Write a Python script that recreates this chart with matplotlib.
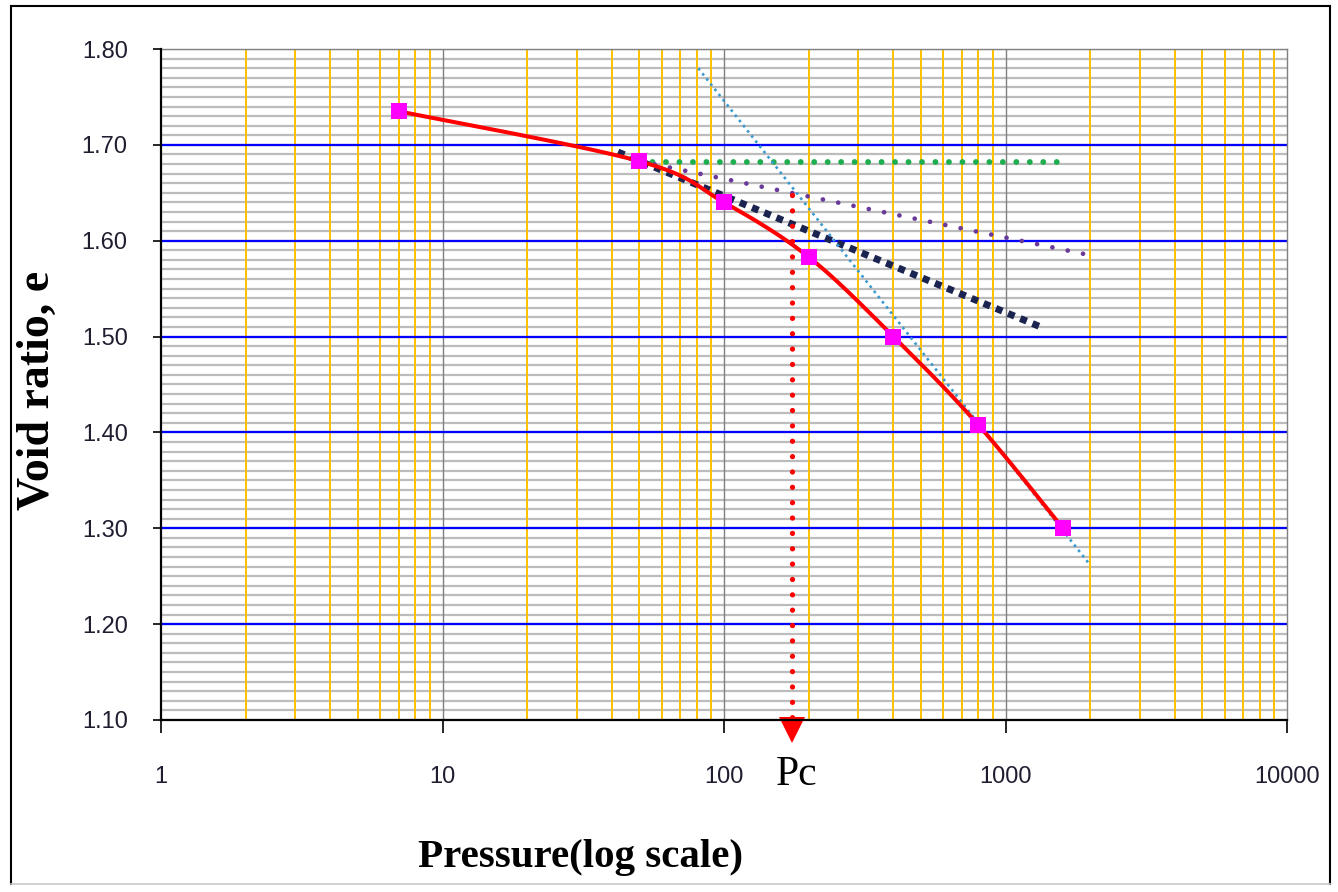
import numpy as np
import matplotlib
matplotlib.use("Agg")
import matplotlib.pyplot as plt
from matplotlib.lines import Line2D

# ---- data ----
pressure = [7, 50, 100, 200, 400, 800, 1600]
void_ratio = [1.735, 1.683, 1.640, 1.583, 1.500, 1.408, 1.300]

horiz_x = [50, 1667]
horiz_y = [1.682, 1.682]
tangent_x = [42, 1360]
tangent_y = [1.6925, 1.509]
bisector_x = [50, 1915]
bisector_y = [1.683, 1.586]
vcl_x = [81, 1995]
vcl_y = [1.780, 1.262]
pc_value = 175
pc_top = 1.648

x_ticks = [1, 10, 100, 1000, 10000]
x_tick_labels = ["1", "10", "100", "1000", "10000"]
y_ticks = [1.10, 1.20, 1.30, 1.40, 1.50, 1.60, 1.70, 1.80]
y_tick_labels = ["1.10", "1.20", "1.30", "1.40", "1.50", "1.60", "1.70", "1.80"]

W, H = 1338, 892
fig = plt.figure(figsize=(W / 100, H / 100), dpi=100)
fig.patch.set_facecolor("white")
ax = fig.add_axes([161 / W, 1 - 720 / H, (1287 - 161) / W, (720 - 49) / H])
ax.set_xscale("log")
ax.set_xlim(1, 10000)
ax.set_ylim(1.10, 1.80)

# grid lines
for v in np.arange(1.10, 1.80001, 0.01):
    ax.axhline(v, color="#bcbcbc", lw=1.6, zorder=0.5)
for dec in [1, 10, 100, 1000]:
    for m in range(2, 10):
        ax.axvline(dec * m, color="#ffc000", lw=1.4, zorder=0.6)
for dec in [10, 100, 1000]:
    ax.axvline(dec, color="#7f7f7f", lw=1.0, zorder=0.7)
for v in y_ticks[1:-1]:
    ax.axhline(v, color="#0000ff", lw=1.6, zorder=0.8)

# construction lines
ax.plot(horiz_x, horiz_y, color="#1fae4f", lw=4.2, linestyle=(0, (0.01, 2.3)),
        dash_capstyle="round", zorder=3)
ax.plot(bisector_x, bisector_y, color="#6a3a9a", lw=3.4, linestyle=(0, (0.01, 3.3)),
        dash_capstyle="round", zorder=3)
ax.plot(tangent_x, tangent_y, color="#1b2450", lw=5.0, linestyle=(0, (1, 0.9)),
        dash_capstyle="butt", zorder=3)
ax.plot(vcl_x, vcl_y, color="#3a9ad0", lw=1.9, linestyle=(0, (1, 1.5)),
        dash_capstyle="butt", zorder=3)

# Pc vertical dotted line + arrow head
ax.plot([pc_value, pc_value], [pc_top, 1.10], color="#ff0000", lw=3.8,
        linestyle=(0, (0.01, 2.9)), dash_capstyle="round", zorder=3, clip_on=False)
ax.plot([pc_value], [1.0895], marker="v", color="#ff0000", markersize=19,
        markeredgewidth=0, clip_on=False, zorder=5)

# smoothed curve (Excel-style Bezier through points, in log-x space)
lx = np.log10(pressure)
ly = np.array(void_ratio)
P = np.column_stack([lx, ly])
n = len(P)
curve = []
t = np.linspace(0, 1, 30)
for i in range(n - 1):
    p0 = P[i - 1] if i > 0 else P[i]
    p1 = P[i]
    p2 = P[i + 1]
    p3 = P[i + 2] if i + 2 < n else P[i + 1]
    c1 = p1 + (p2 - p0) / 6.0
    c2 = p2 - (p3 - p1) / 6.0
    seg = ((1 - t) ** 3)[:, None] * p1 + (3 * (1 - t) ** 2 * t)[:, None] * c1 \
        + (3 * (1 - t) * t ** 2)[:, None] * c2 + (t ** 3)[:, None] * p2
    curve.append(seg)
curve = np.vstack(curve)
ax.plot(10 ** curve[:, 0], curve[:, 1], color="#ff0000", lw=2.9, zorder=4,
        solid_capstyle="round")
ax.plot(pressure, void_ratio, linestyle="none", marker="s", markersize=12,
        color="#ff00ff", markeredgewidth=0, zorder=6)

# axes styling
for s in ["left", "bottom"]:
    ax.spines[s].set_color("#000000")
    ax.spines[s].set_linewidth(1.6)
for s in ["top", "right"]:
    ax.spines[s].set_color("#808080")
    ax.spines[s].set_linewidth(1.0)
ax.spines["left"].set_zorder(7)
ax.spines["bottom"].set_zorder(7)

ax.set_xticks(x_ticks)
ax.set_xticklabels(x_tick_labels)
ax.xaxis.set_minor_locator(matplotlib.ticker.NullLocator())
ax.set_yticks(y_ticks)
ax.set_yticklabels(y_tick_labels)
ax.yaxis.set_minor_locator(matplotlib.ticker.NullLocator())
ax.tick_params(axis="x", direction="out", length=9, width=1.2, pad=24,
               labelsize=17, labelcolor="#1e1e30", color="#000000")
ax.tick_params(axis="y", direction="out", length=6, width=1.2, pad=18,
               labelsize=17, labelcolor="#1e1e30", color="#000000")
for lab in ax.get_xticklabels() + ax.get_yticklabels():
    lab.set_fontfamily("Liberation Sans")

# labels
fig.text(38 / W, 1 - 390 / H, "Void ratio, e", rotation=90, ha="center", va="center",
         fontsize=33, fontweight="bold", family="Liberation Serif")
fig.text(580 / W, 1 - 858 / H, "Pressure(log scale)", ha="center", va="center",
         fontsize=29.5, fontweight="bold", family="Liberation Serif")
fig.text(797 / W, 1 - 775 / H, "Pc", ha="center", va="center",
         fontsize=30, family="Liberation Serif")

# outer frame
fx0, fx1 = 11 / W, 1330 / W
fy0, fy1 = 1 - 884 / H, 1 - 6 / H
fig.add_artist(Line2D([fx0, fx1], [fy1, fy1], color="#000000", lw=1.5, transform=fig.transFigure))
fig.add_artist(Line2D([fx0, fx0], [fy0, fy1], color="#000000", lw=1.5, transform=fig.transFigure))
fig.add_artist(Line2D([fx1, fx1], [fy0, fy1], color="#000000", lw=1.5, transform=fig.transFigure))
fig.add_artist(Line2D([fx0, fx1], [fy0, fy0], color="#c8c8c8", lw=1.2, transform=fig.transFigure))

fig.savefig("out.png", dpi=100, facecolor="white")
